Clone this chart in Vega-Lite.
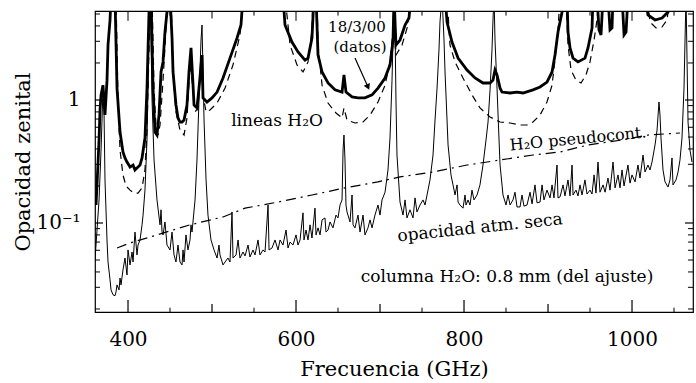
{
  "$schema": "https://vega.github.io/schema/vega-lite/v6.json",
  "width": 598,
  "height": 301,
  "autosize": {"type": "none"},
  "padding": {"left": 95, "top": 11, "right": 3, "bottom": 71},
  "background": "white",
  "config": {
    "view": {"stroke": "black", "strokeWidth": 1.2},
    "font": "DejaVu Serif",
    "axis": {"labelFont": "DejaVu Serif", "titleFont": "DejaVu Serif", "labelColor": "black", "titleColor": "black", "titleFontWeight": "normal", "grid": false}
  },
  "datasets": {
    "seca": [
      {"freq":360.7,"opac":0.0501},{"freq":363.1,"opac":0.0877},{"freq":365.5,"opac":0.154},{"freq":367.9,"opac":0.392},{"freq":370.2,"opac":1.21},{"freq":371.4,"opac":0.829},{"freq":372.6,"opac":0.224},{"freq":375.0,"opac":0.0728},{"freq":376.2,"opac":0.0482},{"freq":378.6,"opac":0.0345},{"freq":379.8,"opac":0.0286},{"freq":382.1,"opac":0.0261},{"freq":384.5,"opac":0.0256},{"freq":385.7,"opac":0.0275},{"freq":386.9,"opac":0.0314},{"freq":389.3,"opac":0.0286},{"freq":390.5,"opac":0.0357},{"freq":391.7,"opac":0.0314},{"freq":394.0,"opac":0.0415},{"freq":396.4,"opac":0.0519},{"freq":398.8,"opac":0.0378},{"freq":400.0,"opac":0.0604},{"freq":402.4,"opac":0.0456},{"freq":404.8,"opac":0.0581},{"freq":406.0,"opac":0.0482},{"freq":408.3,"opac":0.0844},{"freq":410.7,"opac":0.055},{"freq":411.9,"opac":0.0662},{"freq":414.3,"opac":0.0728},{"freq":416.7,"opac":0.0966},{"freq":417.9,"opac":0.116},{"freq":420.2,"opac":0.185},{"freq":422.6,"opac":0.473},{"freq":423.8,"opac":1.21},{"freq":425.0,"opac":3.71},{"freq":426.2,"opac":7},{"freq":427.4,"opac":3.07},{"freq":428.6,"opac":1.0},{"freq":431.0,"opac":0.325},{"freq":434.5,"opac":0.154},{"freq":438.1,"opac":0.0966},{"freq":439.3,"opac":0.128},{"freq":440.5,"opac":0.0844},{"freq":441.7,"opac":0.08},{"freq":444.0,"opac":0.102},{"freq":446.4,"opac":0.0662},{"freq":450.0,"opac":0.0604},{"freq":452.4,"opac":0.0844},{"freq":454.8,"opac":0.055},{"freq":457.1,"opac":0.0482},{"freq":459.5,"opac":0.0662},{"freq":461.9,"opac":0.0482},{"freq":464.3,"opac":0.0456},{"freq":465.5,"opac":0.0604},{"freq":466.7,"opac":0.0482},{"freq":469.0,"opac":0.08},{"freq":471.4,"opac":0.0604},{"freq":473.8,"opac":0.0728},{"freq":475.0,"opac":0.0966},{"freq":476.2,"opac":0.0844},{"freq":479.8,"opac":0.154},{"freq":482.1,"opac":0.325},{"freq":484.5,"opac":1.0},{"freq":486.9,"opac":3.07},{"freq":488.1,"opac":4.07},{"freq":490.5,"opac":0.688},{"freq":492.9,"opac":0.224},{"freq":495.2,"opac":0.116},{"freq":498.8,"opac":0.0728},{"freq":502.4,"opac":0.0604},{"freq":506.0,"opac":0.0519},{"freq":508.3,"opac":0.0662},{"freq":509.5,"opac":0.055},{"freq":513.1,"opac":0.0456},{"freq":515.5,"opac":0.0482},{"freq":519.0,"opac":0.0519},{"freq":521.4,"opac":0.0482},{"freq":523.8,"opac":0.123},{"freq":525.0,"opac":0.0519},{"freq":528.6,"opac":0.055},{"freq":531.0,"opac":0.0728},{"freq":533.3,"opac":0.0519},{"freq":536.9,"opac":0.0581},{"freq":539.3,"opac":0.054},{"freq":542.9,"opac":0.0662},{"freq":545.2,"opac":0.0529},{"freq":548.8,"opac":0.0604},{"freq":551.2,"opac":0.055},{"freq":554.8,"opac":0.0728},{"freq":557.1,"opac":0.055},{"freq":560.7,"opac":0.0604},{"freq":563.1,"opac":0.0581},{"freq":566.7,"opac":0.14},{"freq":567.9,"opac":0.0604},{"freq":571.4,"opac":0.0626},{"freq":575.0,"opac":0.0728},{"freq":578.6,"opac":0.0604},{"freq":581.0,"opac":0.0728},{"freq":584.5,"opac":0.0662},{"freq":588.1,"opac":0.0877},{"freq":590.5,"opac":0.0626},{"freq":592.9,"opac":0.07},{"freq":596.4,"opac":0.0662},{"freq":600.0,"opac":0.08},{"freq":602.4,"opac":0.0662},{"freq":604.8,"opac":0.0728},{"freq":608.3,"opac":0.121},{"freq":609.5,"opac":0.0728},{"freq":611.9,"opac":0.0877},{"freq":614.3,"opac":0.0728},{"freq":616.7,"opac":0.0966},{"freq":619.0,"opac":0.0755},{"freq":622.6,"opac":0.132},{"freq":623.8,"opac":0.08},{"freq":626.2,"opac":0.0913},{"freq":628.6,"opac":0.08},{"freq":631.0,"opac":0.106},{"freq":634.5,"opac":0.11},{"freq":635.7,"opac":0.0844},{"freq":638.1,"opac":0.0877},{"freq":640.5,"opac":0.102},{"freq":644.0,"opac":0.0913},{"freq":647.6,"opac":0.116},{"freq":650.0,"opac":0.11},{"freq":652.4,"opac":0.14},{"freq":654.8,"opac":0.154},{"freq":656.0,"opac":0.392},{"freq":657.1,"opac":0.519},{"freq":658.3,"opac":0.325},{"freq":659.5,"opac":0.14},{"freq":660.7,"opac":0.123},{"freq":664.3,"opac":0.102},{"freq":666.7,"opac":0.169},{"freq":667.9,"opac":0.0966},{"freq":670.2,"opac":0.0913},{"freq":673.8,"opac":0.116},{"freq":676.2,"opac":0.0844},{"freq":679.8,"opac":0.116},{"freq":682.1,"opac":0.08},{"freq":685.7,"opac":0.0913},{"freq":688.1,"opac":0.106},{"freq":690.5,"opac":0.0913},{"freq":694.0,"opac":0.116},{"freq":697.6,"opac":0.14},{"freq":700.0,"opac":0.116},{"freq":702.4,"opac":0.154},{"freq":706.0,"opac":0.178},{"freq":709.5,"opac":0.27},{"freq":711.9,"opac":0.491},{"freq":714.3,"opac":1.45},{"freq":715.5,"opac":3.19},{"freq":716.7,"opac":7},{"freq":717.9,"opac":3.71},{"freq":719.0,"opac":1.0},{"freq":720.2,"opac":0.357},{"freq":723.8,"opac":0.148},{"freq":727.4,"opac":0.116},{"freq":729.8,"opac":0.154},{"freq":732.1,"opac":0.11},{"freq":735.7,"opac":0.128},{"freq":739.3,"opac":0.11},{"freq":741.7,"opac":0.16},{"freq":744.0,"opac":0.123},{"freq":747.6,"opac":0.14},{"freq":751.2,"opac":0.154},{"freq":753.6,"opac":0.14},{"freq":756.0,"opac":0.169},{"freq":759.5,"opac":0.224},{"freq":763.1,"opac":0.357},{"freq":765.5,"opac":0.688},{"freq":767.9,"opac":1.25},{"freq":770.2,"opac":2.55},{"freq":771.4,"opac":4.3},{"freq":773.8,"opac":7},{"freq":776.2,"opac":3.07},{"freq":777.4,"opac":1.69},{"freq":779.8,"opac":0.688},{"freq":781.0,"opac":0.431},{"freq":784.5,"opac":0.246},{"freq":786.9,"opac":0.204},{"freq":789.3,"opac":0.169},{"freq":791.7,"opac":0.204},{"freq":792.9,"opac":0.148},{"freq":795.2,"opac":0.14},{"freq":798.8,"opac":0.132},{"freq":801.2,"opac":0.169},{"freq":802.4,"opac":0.14},{"freq":804.8,"opac":0.154},{"freq":807.1,"opac":0.14},{"freq":809.5,"opac":0.185},{"freq":811.9,"opac":0.154},{"freq":815.5,"opac":0.169},{"freq":819.0,"opac":0.204},{"freq":822.6,"opac":0.296},{"freq":826.2,"opac":0.473},{"freq":828.6,"opac":0.662},{"freq":831.0,"opac":1.21},{"freq":833.3,"opac":2.55},{"freq":834.5,"opac":4.47},{"freq":835.7,"opac":7},{"freq":836.9,"opac":3.07},{"freq":839.3,"opac":1.25},{"freq":841.7,"opac":0.473},{"freq":842.9,"opac":0.296},{"freq":846.4,"opac":0.169},{"freq":850.0,"opac":0.14},{"freq":852.4,"opac":0.169},{"freq":854.8,"opac":0.14},{"freq":858.3,"opac":0.154},{"freq":860.7,"opac":0.178},{"freq":863.1,"opac":0.135},{"freq":866.7,"opac":0.135},{"freq":869.0,"opac":0.169},{"freq":871.4,"opac":0.137},{"freq":875.0,"opac":0.14},{"freq":878.6,"opac":0.178},{"freq":881.0,"opac":0.143},{"freq":884.5,"opac":0.204},{"freq":886.9,"opac":0.146},{"freq":890.5,"opac":0.148},{"freq":892.9,"opac":0.204},{"freq":895.2,"opac":0.154},{"freq":898.8,"opac":0.185},{"freq":902.4,"opac":0.16},{"freq":904.8,"opac":0.204},{"freq":907.1,"opac":0.16},{"freq":910.7,"opac":0.296},{"freq":911.9,"opac":0.16},{"freq":914.3,"opac":0.163},{"freq":917.9,"opac":0.204},{"freq":920.2,"opac":0.166},{"freq":923.8,"opac":0.224},{"freq":926.2,"opac":0.166},{"freq":928.6,"opac":0.296},{"freq":929.8,"opac":0.169},{"freq":933.3,"opac":0.185},{"freq":935.7,"opac":0.166},{"freq":938.1,"opac":0.204},{"freq":940.5,"opac":0.169},{"freq":944.0,"opac":0.224},{"freq":946.4,"opac":0.172},{"freq":950.0,"opac":0.185},{"freq":952.4,"opac":0.172},{"freq":954.8,"opac":0.246},{"freq":957.1,"opac":0.175},{"freq":959.5,"opac":0.313},{"freq":961.9,"opac":0.178},{"freq":965.5,"opac":0.204},{"freq":967.9,"opac":0.178},{"freq":971.4,"opac":0.232},{"freq":973.8,"opac":0.185},{"freq":977.4,"opac":0.313},{"freq":979.8,"opac":0.193},{"freq":983.3,"opac":0.246},{"freq":985.7,"opac":0.193},{"freq":988.1,"opac":0.27},{"freq":990.5,"opac":0.2},{"freq":995.2,"opac":0.296},{"freq":997.6,"opac":0.211},{"freq":1000.0,"opac":0.246},{"freq":1003.6,"opac":0.216},{"freq":1007.1,"opac":0.296},{"freq":1009.5,"opac":0.232},{"freq":1013.1,"opac":0.357},{"freq":1015.5,"opac":0.26},{"freq":1019.0,"opac":0.296},{"freq":1021.4,"opac":0.27},{"freq":1023.8,"opac":0.313},{"freq":1027.4,"opac":0.431},{"freq":1029.8,"opac":0.57},{"freq":1032.1,"opac":0.963},{"freq":1033.3,"opac":0.755},{"freq":1034.5,"opac":0.491},{"freq":1036.9,"opac":0.27},{"freq":1039.3,"opac":0.216},{"freq":1042.9,"opac":0.196},{"freq":1045.2,"opac":0.224},{"freq":1047.6,"opac":0.338},{"freq":1048.8,"opac":0.204},{"freq":1052.4,"opac":0.224},{"freq":1054.8,"opac":0.26},{"freq":1057.1,"opac":0.325},{"freq":1059.5,"opac":0.491},{"freq":1061.9,"opac":1.25},{"freq":1063.1,"opac":3.07},{"freq":1064.3,"opac":7},{"freq":1065.5,"opac":2.11},{"freq":1066.7,"opac":0.662},{"freq":1069.0,"opac":0.392},{"freq":1071.4,"opac":0.313}
    ],
    "datos": [
      {"freq":361.9,"opac":0.14},{"freq":363.1,"opac":0.204},{"freq":365.5,"opac":0.473},{"freq":366.7,"opac":0.829},{"freq":367.9,"opac":1.1},{"freq":370.2,"opac":1.32},{"freq":371.4,"opac":1.0},{"freq":372.6,"opac":0.755},{"freq":375.0,"opac":1.45},{"freq":376.2,"opac":2.8},{"freq":378.6,"opac":4.47},{"freq":379.8,"opac":7},
      {"freq":384.5,"opac":7},{"freq":386.9,"opac":1.25},{"freq":390.5,"opac":0.549},{"freq":394.0,"opac":0.378},{"freq":396.4,"opac":0.338},{"freq":398.8,"opac":0.313},{"freq":402.4,"opac":0.285},{"freq":406.0,"opac":0.296},{"freq":408.3,"opac":0.27},{"freq":410.7,"opac":0.28},{"freq":414.3,"opac":0.296},{"freq":416.7,"opac":0.338},{"freq":420.2,"opac":0.491},{"freq":422.6,"opac":1.25},{"freq":425.0,"opac":5.19},{"freq":426.2,"opac":7},
      {"freq":427.4,"opac":7},{"freq":429.8,"opac":1.25},{"freq":432.1,"opac":0.549},{"freq":434.5,"opac":0.519},{"freq":436.9,"opac":0.755},{"freq":439.3,"opac":1.69},{"freq":441.7,"opac":2.04},{"freq":444.0,"opac":3.57},{"freq":446.4,"opac":5.19},{"freq":447.6,"opac":7},
      {"freq":450.0,"opac":7},{"freq":452.4,"opac":3.19},{"freq":453.6,"opac":1.69},{"freq":457.1,"opac":0.911},{"freq":459.5,"opac":0.714},{"freq":461.9,"opac":0.662},{"freq":464.3,"opac":0.662},{"freq":466.7,"opac":0.688},{"freq":470.2,"opac":0.911},{"freq":472.6,"opac":1.69},{"freq":475.0,"opac":2.65},{"freq":477.4,"opac":1.32},{"freq":478.6,"opac":0.911},{"freq":482.1,"opac":0.861},{"freq":484.5,"opac":1.25},{"freq":488.1,"opac":2.32},{"freq":489.3,"opac":1.04},{"freq":494.0,"opac":0.963},{"freq":500.0,"opac":1.04},{"freq":506.0,"opac":1.16},{"freq":513.1,"opac":1.51},{"freq":521.4,"opac":2.19},{"freq":529.8,"opac":3.19},{"freq":534.5,"opac":4.07},{"freq":536.9,"opac":7},
      {"freq":584.5,"opac":7},{"freq":586.9,"opac":4.07},{"freq":595.2,"opac":2.96},{"freq":602.4,"opac":2.46},{"freq":610.7,"opac":2.11},{"freq":614.3,"opac":2.19},{"freq":619.0,"opac":3.19},{"freq":621.4,"opac":7},
      {"freq":623.8,"opac":7},{"freq":626.2,"opac":2.32},{"freq":631.0,"opac":1.69},{"freq":638.1,"opac":1.375},{"freq":646.4,"opac":1.21},{"freq":654.8,"opac":1.16},{"freq":657.1,"opac":1.6},{"freq":659.5,"opac":1.16},{"freq":666.7,"opac":1.06},{"freq":673.8,"opac":1.04},{"freq":682.1,"opac":1.04},{"freq":690.5,"opac":1.1},{"freq":697.6,"opac":1.25},{"freq":706.0,"opac":1.51},{"freq":711.9,"opac":1.93},{"freq":715.5,"opac":3.07},{"freq":716.7,"opac":7},{"freq":719.0,"opac":2.8},{"freq":723.8,"opac":3.07},{"freq":729.8,"opac":4.07},{"freq":734.5,"opac":4.64},{"freq":736.9,"opac":7},
      {"freq":777.4,"opac":7},{"freq":779.8,"opac":4.3},{"freq":785.7,"opac":2.96},{"freq":792.9,"opac":2.19},{"freq":803.6,"opac":1.75},{"freq":813.1,"opac":1.51},{"freq":822.6,"opac":1.375},{"freq":831.0,"opac":1.375},{"freq":834.5,"opac":1.45},{"freq":836.9,"opac":1.75},{"freq":839.3,"opac":1.6},{"freq":842.9,"opac":1.25},{"freq":845.2,"opac":1.16},{"freq":854.8,"opac":1.14},{"freq":863.1,"opac":1.16},{"freq":870.2,"opac":1.14},{"freq":882.1,"opac":1.21},{"freq":890.5,"opac":1.275},{"freq":898.8,"opac":1.4},{"freq":904.8,"opac":1.69},{"freq":908.3,"opac":2.32},{"freq":911.9,"opac":3.57},{"freq":916.7,"opac":5.19},{"freq":917.9,"opac":7},
      {"freq":922.6,"opac":7},{"freq":923.8,"opac":3.57},{"freq":926.2,"opac":2.65},{"freq":929.8,"opac":2.19},{"freq":935.7,"opac":2.04},{"freq":944.0,"opac":2.19},{"freq":947.6,"opac":2.65},{"freq":952.4,"opac":3.85},{"freq":953.6,"opac":7},
      {"freq":958.3,"opac":7},{"freq":960.7,"opac":3.71},{"freq":963.1,"opac":3.38},{"freq":965.5,"opac":7},
      {"freq":971.4,"opac":7},{"freq":973.8,"opac":3.71},{"freq":976.2,"opac":3.85},{"freq":977.4,"opac":7},
      {"freq":988.1,"opac":7},{"freq":990.5,"opac":3.38},{"freq":992.9,"opac":3.57},{"freq":995.2,"opac":7},
      {"freq":1015.5,"opac":7},{"freq":1019.0,"opac":4.91},{"freq":1027.4,"opac":4.47},{"freq":1035.7,"opac":4.64},{"freq":1042.9,"opac":5.19},{"freq":1045.2,"opac":7}
    ],
    "modelo": [
      {"freq":385.7,"opac":7},{"freq":388.1,"opac":1.0},{"freq":390.5,"opac":0.392},{"freq":394.0,"opac":0.246},{"freq":397.6,"opac":0.2},{"freq":402.4,"opac":0.185},{"freq":407.1,"opac":0.175},{"freq":411.9,"opac":0.175},{"freq":416.7,"opac":0.193},{"freq":420.2,"opac":0.27},{"freq":422.6,"opac":0.57},{"freq":425.0,"opac":2.55},{"freq":426.2,"opac":7},
      {"freq":428.6,"opac":7},{"freq":431.0,"opac":1.21},{"freq":433.3,"opac":0.626},{"freq":435.7,"opac":0.519},{"freq":438.1,"opac":0.626},{"freq":441.7,"opac":1.45},{"freq":445.2,"opac":3.71},{"freq":446.4,"opac":7},
      {"freq":451.2,"opac":7},{"freq":453.6,"opac":1.75},{"freq":457.1,"opac":0.799},{"freq":461.9,"opac":0.57},{"freq":466.7,"opac":0.519},{"freq":470.2,"opac":0.714},{"freq":473.8,"opac":1.93},{"freq":476.2,"opac":1.45},{"freq":479.8,"opac":0.799},{"freq":483.3,"opac":0.861},{"freq":486.9,"opac":2.11},{"freq":489.3,"opac":1.1},{"freq":492.9,"opac":0.799},{"freq":497.6,"opac":0.829},{"freq":506.0,"opac":0.945},{"freq":515.5,"opac":1.25},{"freq":525.0,"opac":1.93},{"freq":533.3,"opac":3.38},{"freq":538.1,"opac":7},
      {"freq":586.9,"opac":7},{"freq":592.9,"opac":2.8},{"freq":601.2,"opac":1.93},{"freq":608.3,"opac":1.69},{"freq":614.3,"opac":2.04},{"freq":619.0,"opac":3.71},{"freq":620.2,"opac":7},
      {"freq":625.0,"opac":7},{"freq":626.2,"opac":2.8},{"freq":631.0,"opac":1.32},{"freq":638.1,"opac":0.945},{"freq":647.6,"opac":0.784},{"freq":654.8,"opac":0.714},{"freq":657.1,"opac":0.861},{"freq":660.7,"opac":0.688},{"freq":670.2,"opac":0.65},{"freq":679.8,"opac":0.662},{"freq":688.1,"opac":0.755},{"freq":697.6,"opac":0.963},{"freq":706.0,"opac":1.32},{"freq":711.9,"opac":2.04},{"freq":715.5,"opac":3.71},{"freq":716.7,"opac":7},{"freq":719.0,"opac":2.32},{"freq":726.2,"opac":2.8},{"freq":733.3,"opac":4.07},{"freq":735.7,"opac":7},
      {"freq":779.8,"opac":7},{"freq":783.3,"opac":2.8},{"freq":789.3,"opac":2.04},{"freq":798.8,"opac":1.51},{"freq":809.5,"opac":1.1},{"freq":819.0,"opac":0.861},{"freq":831.0,"opac":0.727},{"freq":842.9,"opac":0.662},{"freq":854.8,"opac":0.65},{"freq":866.7,"opac":0.626},{"freq":875.0,"opac":0.626},{"freq":882.1,"opac":0.662},{"freq":890.5,"opac":0.755},{"freq":898.8,"opac":0.963},{"freq":904.8,"opac":1.32},{"freq":908.3,"opac":2.11},{"freq":911.9,"opac":3.71},{"freq":914.3,"opac":7},
      {"freq":921.4,"opac":7},{"freq":923.8,"opac":2.8},{"freq":927.4,"opac":1.75},{"freq":933.3,"opac":1.45},{"freq":939.3,"opac":1.375},{"freq":945.2,"opac":1.6},{"freq":950.0,"opac":2.04},{"freq":954.8,"opac":3.07},{"freq":958.3,"opac":4.47},{"freq":960.7,"opac":7},
      {"freq":1017.9,"opac":7},{"freq":1021.4,"opac":4.3},{"freq":1028.6,"opac":3.85},{"freq":1035.7,"opac":3.92},{"freq":1041.7,"opac":4.47},{"freq":1045.2,"opac":7}
    ],
    "pseudo": [
      {"freq":386.9,"opac":0.0626},{"freq":402.4,"opac":0.0688},{"freq":434.5,"opac":0.08},{"freq":473.8,"opac":0.0966},{"freq":513.1,"opac":0.112},{"freq":539.3,"opac":0.132},{"freq":578.6,"opac":0.148},{"freq":619.0,"opac":0.169},{"freq":658.3,"opac":0.193},{"freq":697.6,"opac":0.216},{"freq":723.8,"opac":0.237},{"freq":763.1,"opac":0.26},{"freq":803.6,"opac":0.296},{"freq":842.9,"opac":0.325},{"freq":882.1,"opac":0.357},{"freq":914.3,"opac":0.378},{"freq":947.6,"opac":0.431},{"freq":988.1,"opac":0.473},{"freq":1019.0,"opac":0.519},{"freq":1057.1,"opac":0.539}
    ],
    "notas": [
      {"freq":577.4,"opac":0.675,"texto":"lineas H₂O"},
      {"freq":851.2,"opac":0.0363,"texto":"columna H₂O: 0.8 mm (del ajuste)"}
    ],
    "notas_datos": [
      {"freq":672.6,"opac":3.95,"texto":"18/3/00"},
      {"freq":676.2,"opac":2.68,"texto":"(datos)"}
    ],
    "nota_pseudo": [{"freq":935.7,"opac":0.482,"texto":"H₂O pseudocont."}],
    "nota_seca": [{"freq":819.0,"opac":0.0913,"texto":"opacidad atm. seca"}],
    "flecha": [{"freq":670.2,"opac":2.19,"freq2":685.7,"opac2":1.275}],
    "xmayor": [{"freq":400},{"freq":600},{"freq":800},{"freq":1000}],
    "xmedio": [{"freq":500},{"freq":700},{"freq":900}],
    "xmenor": [{"freq":450},{"freq":550},{"freq":650},{"freq":750},{"freq":850},{"freq":950},{"freq":1050}],
    "ymayor": [{"opac":0.1},{"opac":1}],
    "ymenor": [{"opac":0.02},{"opac":0.03},{"opac":0.04},{"opac":0.05},{"opac":0.06},{"opac":0.07},{"opac":0.08},{"opac":0.09},{"opac":0.2},{"opac":0.3},{"opac":0.4},{"opac":0.5},{"opac":0.6},{"opac":0.7},{"opac":0.8},{"opac":0.9},{"opac":2},{"opac":3},{"opac":4},{"opac":5}]
  },
  "layer": [
    {
      "data": {"name": "seca"},
      "mark": {"type": "line", "clip": true, "color": "black", "strokeWidth": 1},
      "encoding": {
        "x": {"field": "freq", "type": "quantitative", "scale": {"domain": [360.7, 1072.6], "nice": false, "zero": false},
          "axis": {"orient": "bottom", "values": [400,600,800,1000], "format": "d", "ticks": false, "labelPadding": 17, "labelFontSize": 20, "domain": false, "title": "Frecuencia (GHz)", "titleFontSize": 21, "titlePadding": 9}},
        "y": {"field": "opac", "type": "quantitative", "scale": {"type": "log", "domain": [0.0189, 5.29], "nice": false},
          "axis": {"orient": "left", "values": [0.1, 1], "labelExpr": "datum.value == 1 ? '1' : '10⁻¹'", "ticks": false, "labelPadding": 15, "labelFontSize": 20, "domain": false, "title": "Opacidad zenital", "titleFontSize": 21, "titlePadding": 2}}
      }
    },
    {
      "data": {"name": "datos"},
      "mark": {"type": "line", "clip": true, "color": "black", "strokeWidth": 2.8},
      "encoding": {
        "x": {"field": "freq", "type": "quantitative", "scale": {"domain": [360.7, 1072.6], "nice": false, "zero": false}, "axis": null},
        "y": {"field": "opac", "type": "quantitative", "scale": {"type": "log", "domain": [0.0189, 5.29], "nice": false}, "axis": null}
      }
    },
    {
      "data": {"name": "modelo"},
      "mark": {"type": "line", "clip": true, "color": "black", "strokeWidth": 1.2, "strokeDash": [7, 5]},
      "encoding": {
        "x": {"field": "freq", "type": "quantitative", "scale": {"domain": [360.7, 1072.6], "nice": false, "zero": false}, "axis": null},
        "y": {"field": "opac", "type": "quantitative", "scale": {"type": "log", "domain": [0.0189, 5.29], "nice": false}, "axis": null}
      }
    },
    {
      "data": {"name": "pseudo"},
      "mark": {"type": "line", "clip": true, "color": "black", "strokeWidth": 1.2, "strokeDash": [10, 5, 2, 5]},
      "encoding": {
        "x": {"field": "freq", "type": "quantitative", "scale": {"domain": [360.7, 1072.6], "nice": false, "zero": false}, "axis": null},
        "y": {"field": "opac", "type": "quantitative", "scale": {"type": "log", "domain": [0.0189, 5.29], "nice": false}, "axis": null}
      }
    },
    {
      "data": {"name": "xmayor"},
      "mark": {"type": "rule", "color": "black", "strokeWidth": 1.2},
      "encoding": {
        "x": {"field": "freq", "type": "quantitative", "scale": {"domain": [360.7, 1072.6], "nice": false, "zero": false}, "axis": null},
        "y": {"datum": 0.0189, "type": "quantitative", "scale": {"type": "log", "domain": [0.0189, 5.29], "nice": false}, "axis": null},
        "y2": {"datum": 0.0237}
      }
    },
    {
      "data": {"name": "xmedio"},
      "mark": {"type": "rule", "color": "black", "strokeWidth": 1.2},
      "encoding": {
        "x": {"field": "freq", "type": "quantitative", "scale": {"domain": [360.7, 1072.6], "nice": false, "zero": false}, "axis": null},
        "y": {"datum": 0.0189, "type": "quantitative", "scale": {"type": "log", "domain": [0.0189, 5.29], "nice": false}, "axis": null},
        "y2": {"datum": 0.022}
      }
    },
    {
      "data": {"name": "xmenor"},
      "mark": {"type": "rule", "color": "black", "strokeWidth": 1},
      "encoding": {
        "x": {"field": "freq", "type": "quantitative", "scale": {"domain": [360.7, 1072.6], "nice": false, "zero": false}, "axis": null},
        "y": {"datum": 0.0189, "type": "quantitative", "scale": {"type": "log", "domain": [0.0189, 5.29], "nice": false}, "axis": null},
        "y2": {"datum": 0.0205}
      }
    },
    {
      "data": {"name": "xmenor"},
      "mark": {"type": "rule", "color": "black", "strokeWidth": 1},
      "encoding": {
        "x": {"field": "freq", "type": "quantitative", "scale": {"domain": [360.7, 1072.6], "nice": false, "zero": false}, "axis": null},
        "y": {"datum": 5.29, "type": "quantitative", "scale": {"type": "log", "domain": [0.0189, 5.29], "nice": false}, "axis": null},
        "y2": {"datum": 4.85}
      }
    },
    {
      "data": {"name": "xmedio"},
      "mark": {"type": "rule", "color": "black", "strokeWidth": 1},
      "encoding": {
        "x": {"field": "freq", "type": "quantitative", "scale": {"domain": [360.7, 1072.6], "nice": false, "zero": false}, "axis": null},
        "y": {"datum": 5.29, "type": "quantitative", "scale": {"type": "log", "domain": [0.0189, 5.29], "nice": false}, "axis": null},
        "y2": {"datum": 4.6}
      }
    },
    {
      "data": {"name": "xmayor"},
      "mark": {"type": "rule", "color": "black", "strokeWidth": 1},
      "encoding": {
        "x": {"field": "freq", "type": "quantitative", "scale": {"domain": [360.7, 1072.6], "nice": false, "zero": false}, "axis": null},
        "y": {"datum": 5.29, "type": "quantitative", "scale": {"type": "log", "domain": [0.0189, 5.29], "nice": false}, "axis": null},
        "y2": {"datum": 4.4}
      }
    },
    {
      "data": {"name": "ymayor"},
      "mark": {"type": "rule", "color": "black", "strokeWidth": 1.2},
      "encoding": {
        "y": {"field": "opac", "type": "quantitative", "scale": {"type": "log", "domain": [0.0189, 5.29], "nice": false}, "axis": null},
        "x": {"datum": 360.7, "type": "quantitative", "scale": {"domain": [360.7, 1072.6], "nice": false, "zero": false}, "axis": null},
        "x2": {"datum": 370.2}
      }
    },
    {
      "data": {"name": "ymenor"},
      "mark": {"type": "rule", "color": "black", "strokeWidth": 1},
      "encoding": {
        "y": {"field": "opac", "type": "quantitative", "scale": {"type": "log", "domain": [0.0189, 5.29], "nice": false}, "axis": null},
        "x": {"datum": 360.7, "type": "quantitative", "scale": {"domain": [360.7, 1072.6], "nice": false, "zero": false}, "axis": null},
        "x2": {"datum": 366.7}
      }
    },
    {
      "data": {"name": "ymayor"},
      "mark": {"type": "rule", "color": "black", "strokeWidth": 1.2},
      "encoding": {
        "y": {"field": "opac", "type": "quantitative", "scale": {"type": "log", "domain": [0.0189, 5.29], "nice": false}, "axis": null},
        "x": {"datum": 1072.6, "type": "quantitative", "scale": {"domain": [360.7, 1072.6], "nice": false, "zero": false}, "axis": null},
        "x2": {"datum": 1063.1}
      }
    },
    {
      "data": {"name": "ymenor"},
      "mark": {"type": "rule", "color": "black", "strokeWidth": 1},
      "encoding": {
        "y": {"field": "opac", "type": "quantitative", "scale": {"type": "log", "domain": [0.0189, 5.29], "nice": false}, "axis": null},
        "x": {"datum": 1072.6, "type": "quantitative", "scale": {"domain": [360.7, 1072.6], "nice": false, "zero": false}, "axis": null},
        "x2": {"datum": 1066.6}
      }
    },
    {
      "data": {"name": "notas"},
      "mark": {"type": "text", "font": "DejaVu Serif", "fontSize": 17, "color": "black", "align": "center", "baseline": "middle"},
      "encoding": {
        "x": {"field": "freq", "type": "quantitative", "scale": {"domain": [360.7, 1072.6], "nice": false, "zero": false}, "axis": null},
        "y": {"field": "opac", "type": "quantitative", "scale": {"type": "log", "domain": [0.0189, 5.29], "nice": false}, "axis": null},
        "text": {"field": "texto"}
      }
    },
    {
      "data": {"name": "notas_datos"},
      "mark": {"type": "text", "font": "DejaVu Serif", "fontSize": 15, "color": "black", "align": "center", "baseline": "middle"},
      "encoding": {
        "x": {"field": "freq", "type": "quantitative", "scale": {"domain": [360.7, 1072.6], "nice": false, "zero": false}, "axis": null},
        "y": {"field": "opac", "type": "quantitative", "scale": {"type": "log", "domain": [0.0189, 5.29], "nice": false}, "axis": null},
        "text": {"field": "texto"}
      }
    },
    {
      "data": {"name": "nota_pseudo"},
      "mark": {"type": "text", "font": "DejaVu Serif", "fontSize": 16, "color": "black", "align": "center", "baseline": "middle", "angle": 354.5},
      "encoding": {
        "x": {"field": "freq", "type": "quantitative", "scale": {"domain": [360.7, 1072.6], "nice": false, "zero": false}, "axis": null},
        "y": {"field": "opac", "type": "quantitative", "scale": {"type": "log", "domain": [0.0189, 5.29], "nice": false}, "axis": null},
        "text": {"field": "texto"}
      }
    },
    {
      "data": {"name": "nota_seca"},
      "mark": {"type": "text", "font": "DejaVu Serif", "fontSize": 17, "color": "black", "align": "center", "baseline": "middle", "angle": 354},
      "encoding": {
        "x": {"field": "freq", "type": "quantitative", "scale": {"domain": [360.7, 1072.6], "nice": false, "zero": false}, "axis": null},
        "y": {"field": "opac", "type": "quantitative", "scale": {"type": "log", "domain": [0.0189, 5.29], "nice": false}, "axis": null},
        "text": {"field": "texto"}
      }
    },
    {
      "data": {"name": "flecha"},
      "mark": {"type": "rule", "color": "black", "strokeWidth": 1.2},
      "encoding": {
        "x": {"field": "freq", "type": "quantitative", "scale": {"domain": [360.7, 1072.6], "nice": false, "zero": false}, "axis": null},
        "y": {"field": "opac", "type": "quantitative", "scale": {"type": "log", "domain": [0.0189, 5.29], "nice": false}, "axis": null},
        "x2": {"field": "freq2"},
        "y2": {"field": "opac2"}
      }
    },
    {
      "data": {"name": "flecha"},
      "mark": {"type": "point", "shape": "triangle-down", "filled": true, "color": "black", "opacity": 1, "size": 45, "angle": 336},
      "encoding": {
        "x": {"field": "freq2", "type": "quantitative", "scale": {"domain": [360.7, 1072.6], "nice": false, "zero": false}, "axis": null},
        "y": {"field": "opac2", "type": "quantitative", "scale": {"type": "log", "domain": [0.0189, 5.29], "nice": false}, "axis": null}
      }
    }
  ],
  "resolve": {"axis": {"x": "independent", "y": "independent"}}
}
